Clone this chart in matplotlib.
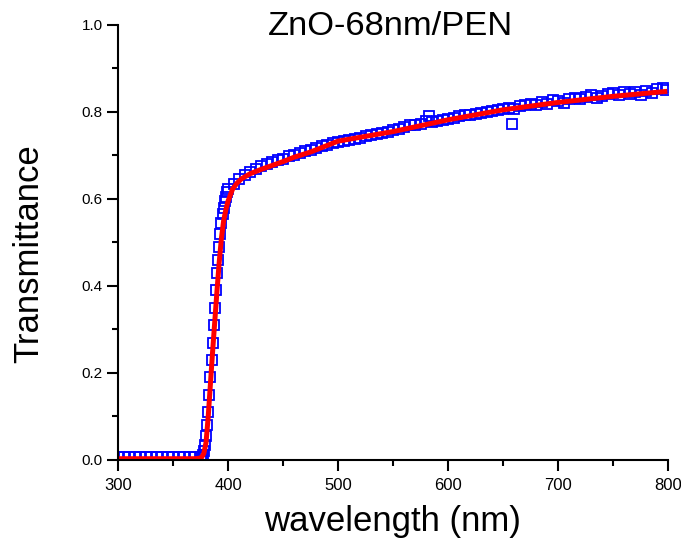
import matplotlib
matplotlib.use('Agg')
import matplotlib.pyplot as plt
from matplotlib.ticker import MultipleLocator
import numpy as np

plt.rcParams['font.family'] = ['Liberation Sans', 'DejaVu Sans']

# measured points (blue squares)
wl_data = [300, 305, 310, 315, 320, 325, 330, 335, 340, 345, 350, 355, 360, 365, 370, 375,
           376, 377, 378, 379, 380, 381, 382, 383, 384, 385, 386, 387, 388, 389, 390,
           391, 392, 393, 394, 395, 396, 397, 398, 399, 400,
           405, 410, 415, 420, 425, 430, 435, 440, 445, 450, 455, 460, 465, 470, 475,
           480, 485, 490, 495, 500, 505, 510, 515, 520, 525, 530, 535, 540, 545, 550,
           555, 560, 565, 570, 575, 580, 583, 585, 590, 595, 600, 605, 610, 615, 620,
           625, 630, 635, 640, 645, 650, 655, 658, 660, 665, 670, 675, 680, 685, 690,
           695, 700, 705, 710, 715, 720, 725, 730, 735, 740, 745, 750, 755, 760, 765,
           770, 775, 780, 785, 790, 795, 798]
t_data = [0.007, 0.007, 0.007, 0.007, 0.007, 0.007, 0.007, 0.007, 0.007, 0.007, 0.007, 0.007, 0.007, 0.007, 0.007, 0.007,
          0.008, 0.012, 0.020, 0.035, 0.055, 0.080, 0.110, 0.150, 0.190, 0.230, 0.270, 0.310, 0.350, 0.390, 0.430,
          0.460, 0.490, 0.520, 0.545, 0.565, 0.580, 0.595, 0.605, 0.615, 0.623,
          0.634, 0.647, 0.656, 0.663, 0.669, 0.675, 0.680, 0.685, 0.689, 0.693, 0.698, 0.702, 0.706, 0.710, 0.713,
          0.717, 0.721, 0.725, 0.728, 0.732, 0.734, 0.736, 0.739, 0.741, 0.744, 0.746, 0.749, 0.751, 0.754, 0.758,
          0.761, 0.765, 0.769, 0.771, 0.773, 0.780, 0.790, 0.777, 0.779, 0.782, 0.784, 0.787, 0.790, 0.792, 0.794,
          0.796, 0.798, 0.800, 0.802, 0.805, 0.807, 0.809, 0.772, 0.807, 0.813, 0.816, 0.819, 0.815, 0.823, 0.819,
          0.827, 0.825, 0.821, 0.831, 0.833, 0.829, 0.835, 0.839, 0.833, 0.837, 0.841, 0.843, 0.839, 0.845, 0.841,
          0.847, 0.839, 0.849, 0.843, 0.853, 0.856, 0.850]

# fitted curve (red line)
wl_fit = [300, 340, 370, 374, 376, 378, 380, 382, 384, 386, 388, 390, 392, 394, 396, 398, 400,
          404, 408, 412, 420, 430, 440, 450, 460, 475, 500, 550, 600, 650, 700, 750, 797]
t_fit = [0.003, 0.003, 0.003, 0.004, 0.006, 0.015, 0.040, 0.100, 0.175, 0.250, 0.320, 0.390, 0.455, 0.510, 0.550, 0.575, 0.595,
         0.622, 0.636, 0.646, 0.658, 0.668, 0.677, 0.686, 0.696, 0.708, 0.733, 0.755, 0.782, 0.805, 0.822, 0.836, 0.847]

fig = plt.figure(figsize=(6.81, 5.42), dpi=100)
ax = fig.add_axes([0.1733, 0.1513, 0.8077, 0.8026])

ax.plot(wl_data, t_data, 's', ms=6.5, mfc='none', mec='#0000ff', mew=1.3)
ax.plot(wl_fit, t_fit, '-', color='#ff0000', lw=3.6)

ax.set_xlim(300, 800)
ax.set_ylim(0, 1.0)
ax.xaxis.set_major_locator(MultipleLocator(100))
ax.xaxis.set_minor_locator(MultipleLocator(50))
ax.yaxis.set_major_locator(MultipleLocator(0.2))
ax.yaxis.set_minor_locator(MultipleLocator(0.1))
ax.yaxis.set_major_formatter(matplotlib.ticker.FormatStrFormatter('%.1f'))

for s in ['top', 'right']:
    ax.spines[s].set_visible(False)
for s in ['left', 'bottom']:
    ax.spines[s].set_linewidth(1.5)

ax.tick_params(which='major', direction='out', length=8, width=1.5)
ax.tick_params(which='minor', direction='out', length=4, width=1.5)
ax.tick_params(axis='x', labelsize=12, pad=5)
ax.tick_params(axis='y', labelsize=11, pad=3)

fig.text(392 / 681, 1 - 521 / 542, 'wavelength (nm)', ha='center', va='center', fontsize=25)
fig.text(29 / 681, 1 - 254 / 542, 'Transmittance', ha='center', va='center',
         rotation=90, fontsize=25)
ax.text(0.495, 0.977, 'ZnO-68nm/PEN', transform=ax.transAxes, ha='center',
        va='baseline', fontsize=24.8)

fig.savefig('out.png', dpi=100)
